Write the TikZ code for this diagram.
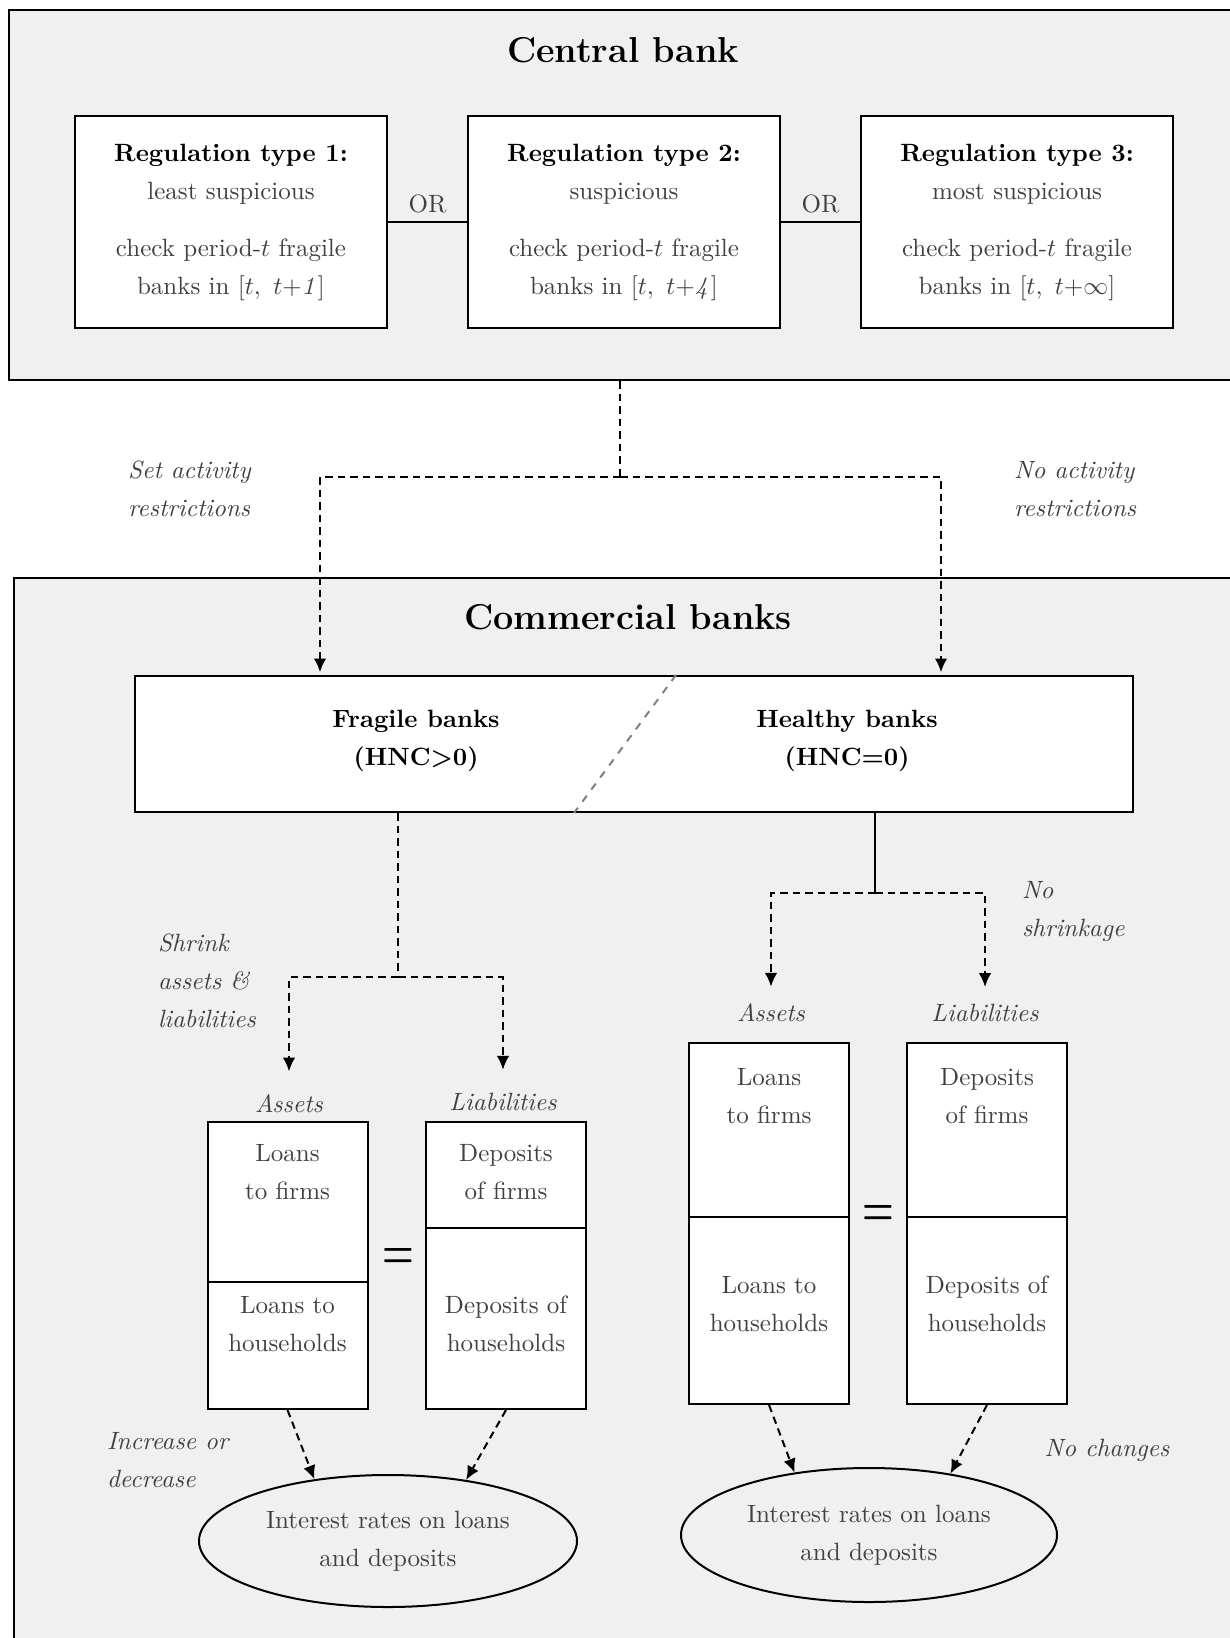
\documentclass[tikz,border=0pt]{standalone}
\usetikzlibrary{shapes.geometric,arrows.meta}
\begin{document}
\begin{tikzpicture}[x=0.4pt, y=-0.4pt, thick, >={Latex[length=5.5pt,width=5pt]},
  every node/.style={font=\fontsize{10}{15.2}\selectfont, text=black!75},
  frame/.style={draw, fill=black!6},
  box/.style={draw, fill=white, align=center, minimum width=125pt, minimum height=85pt},
  cell/.style={draw, fill=white, minimum width=64pt},
  txt/.style={align=center},
  bold/.style={align=center, font=\fontsize{10}{15.2}\selectfont\bfseries, text=black},
  title/.style={font=\Large\bfseries, text=black},
  eqsign/.style={font=\huge\bfseries, text=black},
  lbl/.style={font=\fontsize{10}{15.2}\selectfont\itshape, align=left, inner sep=0pt},
  ell/.style={draw, ellipse, align=center, inner sep=0pt},
  dline/.style={densely dashed}]
\useasboundingbox (0,0) rectangle (1230,1638);

\node[frame, minimum width=494.4pt, minimum height=148pt] (cb) at (627,195) {};
\node[frame, minimum width=492.4pt, minimum height=428.8pt] (kb) at (629.5,1114) {};
\node[title] (cbt) at (623,50) {Central bank};
\node[title] (kbt) at (628,617) {Commercial banks};

\node[box] (r1) at (231,222) {{\color{black}\bfseries Regulation type 1:}\\least suspicious\\[7.6pt]check period-$t$ fragile\\banks in $[t,\ t{+}\mathit{1}]$};
\node[box, right of=r1, node distance=157.2pt] (r2) {{\color{black}\bfseries Regulation type 2:}\\suspicious\\[7.6pt]check period-$t$ fragile\\banks in $[t,\ t{+}\mathit{4}]$};
\node[box, right of=r2, node distance=157.2pt] (r3) {{\color{black}\bfseries Regulation type 3:}\\most suspicious\\[7.6pt]check period-$t$ fragile\\banks in $[t,\ t{+}\infty]$};
\draw (r1) -- node[midway, above] (or1) {OR} (r2);
\draw (r2) -- node[midway, above] (or2) {OR} (r3);

\node[lbl, anchor=west] (sar) at (127,489) {Set activity\\restrictions};
\node[lbl, anchor=west] (nar) at (1013,489) {No activity\\restrictions};

\node[draw, fill=white, minimum width=399.2pt, minimum height=54.4pt] (hnc) at (634,744) {};
\draw[gray, dashed] ([xshift=16.8pt]hnc.north) -- ([xshift=-24pt]hnc.south);
\node[bold] (frb) at (416,741) {Fragile banks\\(HNC>0)};
\node[bold] (hlb) at (847,741) {Healthy banks\\(HNC=0)};

\coordinate (cs) at (620,477);
\coordinate (fa) at (320,676);
\coordinate (ha) at (941,676);
\draw[dline] (cb.south -| cs) -- (cs);
\draw[dline,->,shorten >=1.5pt] (cs) -| (fa);
\draw[dline,->,shorten >=1.5pt] (cs) -| (ha);

\node[lbl, anchor=west] (shr) at (157,981) {Shrink\\assets \&\\liabilities};
\node[lbl, anchor=west] (nsh) at (1021,912) {No\\shrinkage};
\node[lbl] (lass) at (289,1104) {Assets};
\node[lbl] (lliab) at (503,1102) {Liabilities};
\node[lbl] (rass) at (771,1013) {Assets};
\node[lbl] (rliab) at (985,1013) {Liabilities};

\coordinate (fs) at (398,977);
\draw[dline] (hnc.south -| fs) -- (fs);
\draw[dline,->,shorten >=9pt] (fs) -| (lass);
\draw[dline,->,shorten >=9pt] (fs) -| (lliab);
\coordinate (hs) at (875,893);
\draw (hnc.south -| hs) -- (hs);
\draw[dline,->,shorten >=6.5pt] (hs) -| (rass);
\draw[dline,->,shorten >=6.5pt] (hs) -| (rliab);

\node[cell, minimum height=64pt] (la1) at (287.5,1202) {};
\node[cell, minimum height=50.8pt, below of=la1, node distance=57.4pt] (la2) {};
\node[cell, minimum height=42.4pt] (lb1) at (506,1175) {};
\node[cell, minimum height=72.4pt, below of=lb1, node distance=57.4pt] (lb2) {};
\node[cell, minimum height=69.6pt] (ra1) at (769,1130) {};
\node[cell, minimum height=74.8pt, below of=ra1, node distance=72.2pt] (ra2) {};
\node[cell, minimum height=69.6pt, right of=ra1, node distance=87.2pt] (rb1) {};
\node[cell, minimum height=74.8pt, right of=ra2, node distance=87.2pt] (rb2) {};

\node[txt] (tla1) at (287.5,1172) {Loans\\to firms};
\node[txt] (tla2) at (287.5,1324) {Loans to\\households};
\node[txt] (tlb1) at (506,1172) {Deposits\\of firms};
\node[txt] (tlb2) at (506,1324) {Deposits of\\households};
\node[txt] (tra1) at (769,1096) {Loans\\to firms};
\node[txt] (tra2) at (769,1304) {Loans to\\households};
\node[txt] (trb1) at (987,1096) {Deposits\\of firms};
\node[txt] (trb2) at (987,1304) {Deposits of\\households};
\node[eqsign] (eq1) at (398,1258) {\scalebox{0.7}[1]{=}};
\node[eqsign] (eq2) at (878,1215) {\scalebox{0.7}[1]{=}};

\node[ell, minimum width=151.2pt, minimum height=52.8pt] (e1) at (388,1541) {Interest rates on loans\\and deposits};
\node[ell, minimum width=150.4pt, minimum height=53.6pt] (e2) at (869,1535) {Interest rates on loans\\and deposits};
\draw[dline,->] (la2.south) -- (e1.140);
\draw[dline,->] (lb2.south) -- (e1.38);
\draw[dline,->] (ra2.south) -- (e2.140);
\draw[dline,->] (rb2.south) -- (e2.37);

\node[lbl, anchor=west] (iod) at (106,1460) {Increase or\\decrease};
\node[lbl] (noc) at (1107,1450) {No changes};
\end{tikzpicture}
\end{document}
